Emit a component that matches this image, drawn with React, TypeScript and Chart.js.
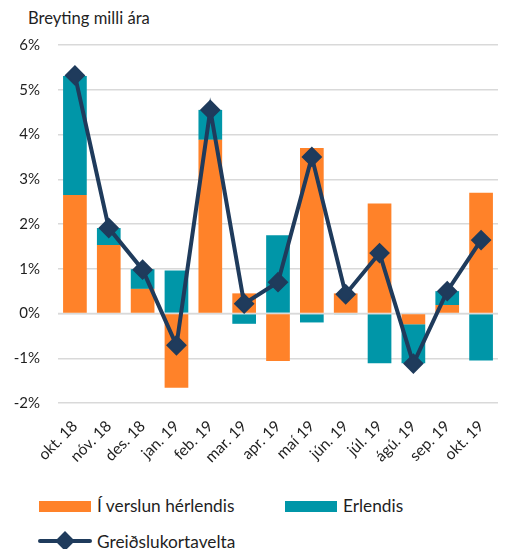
import React, { useEffect, useRef } from 'react';
import { Chart, registerables } from 'chart.js';

Chart.register(...registerables);

const categories = ['okt. 18', 'nóv. 18', 'des. 18', 'jan. 19', 'feb. 19', 'mar. 19', 'apr. 19', 'maí 19', 'jún. 19', 'júl. 19', 'ágú. 19', 'sep. 19', 'okt. 19'];
const domestic = [2.65, 1.53, 0.55, -1.66, 3.88, 0.45, -1.06, 3.7, 0.45, 2.46, -0.24, 0.19, 2.7];
const abroad = [2.66, 0.38, 0.44, 0.96, 0.67, -0.23, 1.75, -0.2, -0.02, -1.11, -0.87, 0.31, -1.05];
const total = [5.32, 1.91, 0.98, -0.71, 4.55, 0.22, 0.7, 3.5, 0.43, 1.35, -1.12, 0.5, 1.64];

const seriesNames = ['Í verslun hérlendis', 'Erlendis', 'Greiðslukortavelta'];
const yAxisTitle = 'Breyting milli ára';
const yMin = -2;
const yMax = 6;

const ORANGE = '#FF8229';
const TEAL = '#0096A8';
const NAVY = '#1F3B5C';
const GRID = '#D9D9D9';
const FONT = 'Lato';
const TEXT = '#1f1f1f';

const zeroLinePlugin = {
  id: 'zeroLine',
  afterDatasetDraw(chart: any, args: any) {
    if (args.index !== 1) return;
    const y = chart.scales.y.getPixelForValue(0);
    const { left, right } = chart.chartArea;
    const ctx = chart.ctx;
    ctx.save();
    ctx.strokeStyle = GRID;
    ctx.lineWidth = 1.5;
    ctx.beginPath();
    ctx.moveTo(left, y);
    ctx.lineTo(right, y);
    ctx.stroke();
    ctx.restore();
  },
};

export default function App() {
  const ref = useRef<HTMLCanvasElement | null>(null);

  useEffect(() => {
    if (!ref.current) return;
    const chart = new Chart(ref.current, {
      type: 'bar',
      data: {
        labels: categories,
        datasets: [
          {
            type: 'bar',
            label: seriesNames[0],
            data: domestic,
            backgroundColor: ORANGE,
            borderWidth: 0,
            barPercentage: 0.7,
            categoryPercentage: 1,
            stack: 'bars',
            order: 2,
          },
          {
            type: 'bar',
            label: seriesNames[1],
            data: abroad,
            backgroundColor: TEAL,
            borderWidth: 0,
            barPercentage: 0.7,
            categoryPercentage: 1,
            stack: 'bars',
            order: 2,
          },
          {
            type: 'line',
            label: seriesNames[2],
            data: total,
            borderColor: NAVY,
            backgroundColor: NAVY,
            borderWidth: 4,
            pointStyle: 'rectRot',
            pointRadius: 9,
            pointBorderWidth: 2,
            pointBackgroundColor: NAVY,
            pointBorderColor: NAVY,
            tension: 0,
            stack: 'line',
            order: 1,
          } as any,
        ],
      },
      options: {
        animation: false,
        responsive: false,
        maintainAspectRatio: false,
        layout: { padding: { top: 45, right: 3, left: 0, bottom: 0 } },
        plugins: {
          legend: { display: false },
          title: { display: false },
          tooltip: { enabled: false },
        },
        scales: {
          x: {
            stacked: true,
            grid: { display: false, drawTicks: false },
            border: { display: false },
            ticks: {
              minRotation: 45,
              maxRotation: 45,
              autoSkip: false,
              padding: 14,
              color: TEXT,
              font: { family: FONT, size: 15.5 },
            },
            afterFit: (scale: any) => {
              scale.height = 87;
            },
          },
          y: {
            stacked: true,
            min: yMin,
            max: yMax,
            grid: { color: GRID, lineWidth: 1.5, drawTicks: false },
            border: { display: false },
            ticks: {
              stepSize: 1,
              padding: 18,
              color: TEXT,
              font: { family: FONT, size: 15 },
              callback: (v: any) => `${v}%`,
            },
            afterFit: (scale: any) => {
              scale.width = 58;
            },
          },
        },
      },
      plugins: [zeroLinePlugin],
    });
    return () => chart.destroy();
  }, []);

  const legendText: React.CSSProperties = {
    position: 'absolute',
    fontFamily: FONT,
    fontSize: 17.3,
    color: TEXT,
    lineHeight: '20px',
    whiteSpace: 'nowrap',
  };

  return (
    <div style={{ position: 'absolute', left: 0, top: 0, width: 509, height: 549, background: '#fff', overflow: 'hidden' }}>
      <div style={{ ...legendText, left: 28, top: 8, fontSize: 16.6 }}>{yAxisTitle}</div>
      <canvas ref={ref} width={509} height={490} style={{ position: 'absolute', left: 0, top: 0, width: 509, height: 490 }} />
      <div style={{ position: 'absolute', left: 39, top: 501, width: 52, height: 11, background: ORANGE }} />
      <div style={{ ...legendText, left: 97, top: 496 }}>{seriesNames[0]}</div>
      <div style={{ position: 'absolute', left: 285, top: 501, width: 52, height: 11, background: TEAL }} />
      <div style={{ ...legendText, left: 343, top: 496 }}>{seriesNames[1]}</div>
      <div style={{ position: 'absolute', left: 38, top: 539, width: 54, height: 4, background: NAVY, borderRadius: 2 }} />
      <div style={{ position: 'absolute', left: 58, top: 534, width: 14, height: 14, background: NAVY, transform: 'rotate(45deg)' }} />
      <div style={{ ...legendText, left: 97, top: 532 }}>{seriesNames[2]}</div>
    </div>
  );
}
